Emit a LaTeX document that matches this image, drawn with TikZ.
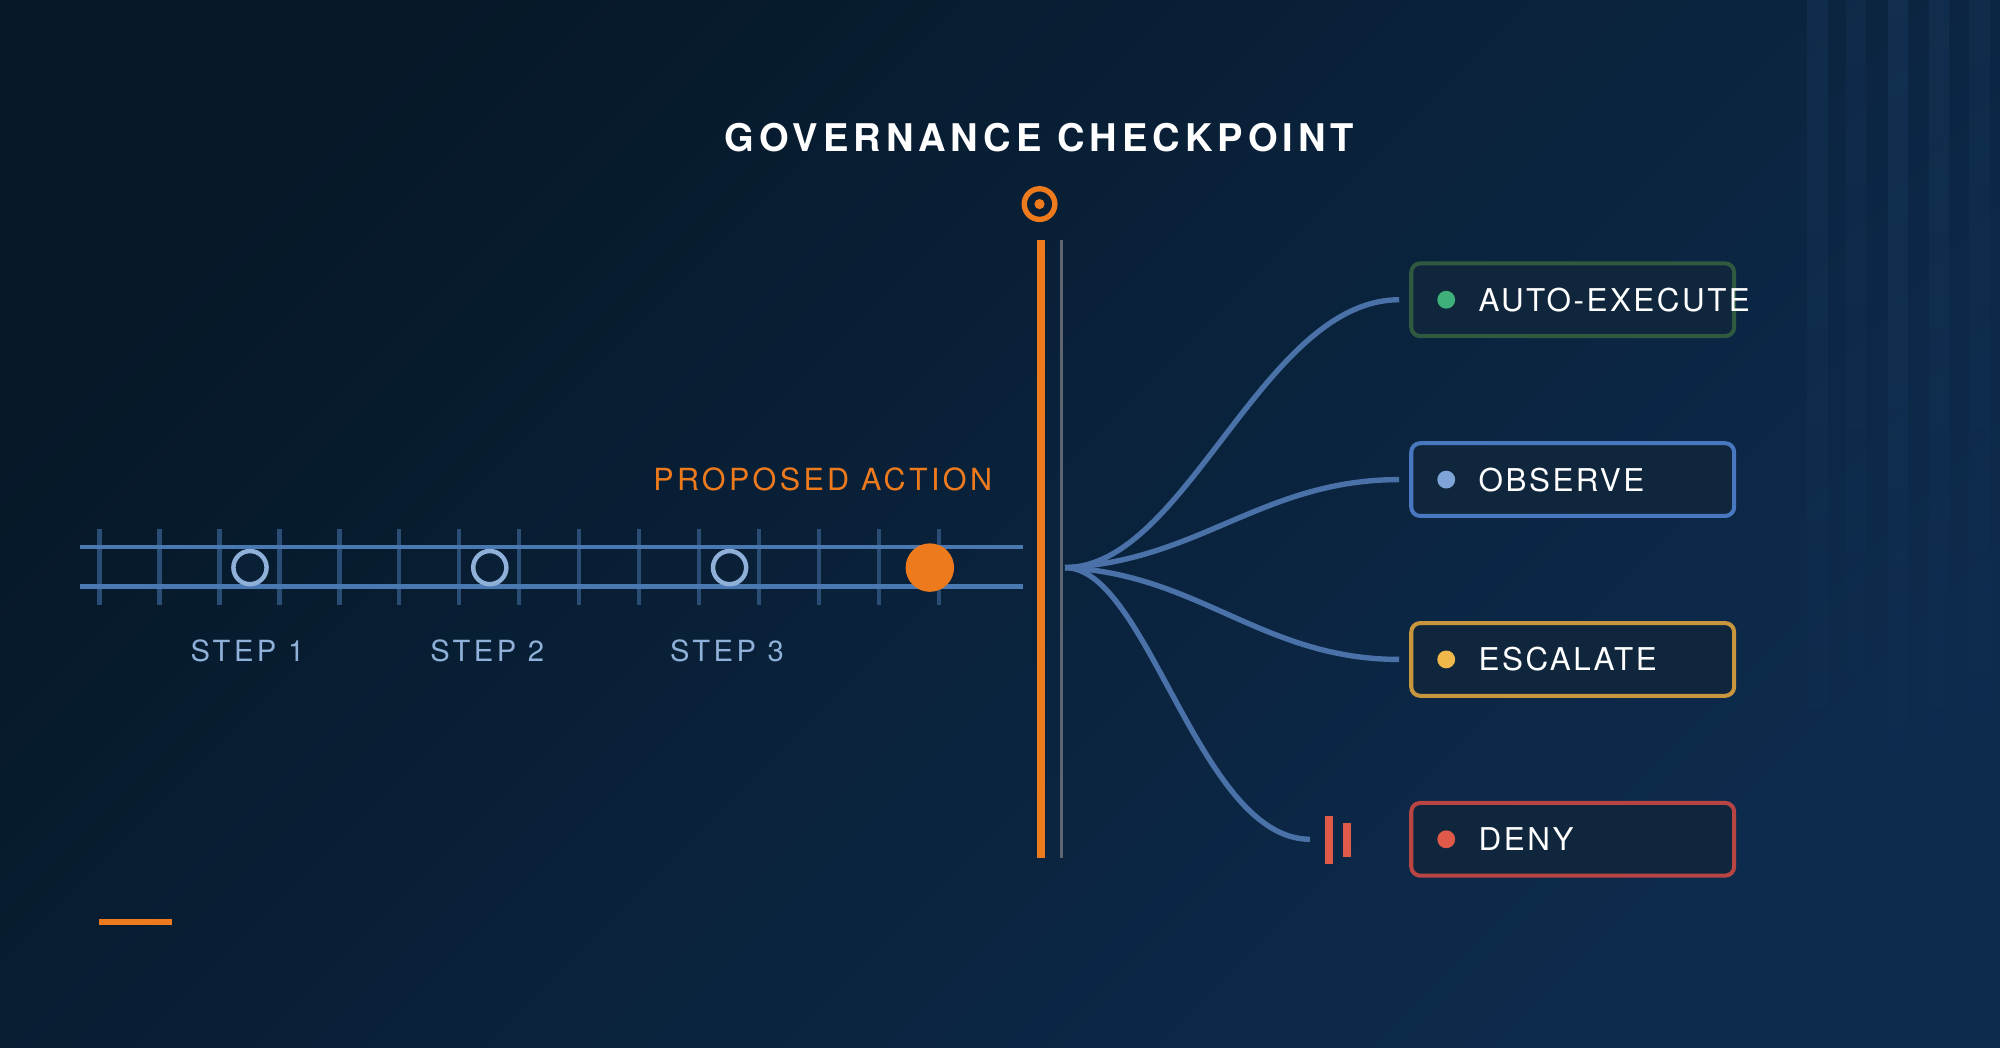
\documentclass[tikz,border=0pt]{standalone}
\usepackage{fontspec}
\setmainfont{TeX Gyre Heros}
\usetikzlibrary{positioning,fadings}
\definecolor{bgA}{HTML}{061828}
\definecolor{bgB}{HTML}{0D2B4D}
\definecolor{rail}{HTML}{4A78B0}
\definecolor{tie}{HTML}{2A4D75}
\definecolor{steptxt}{HTML}{8FB0D8}
\definecolor{accent}{HTML}{EE7A1E}
\definecolor{link}{HTML}{4A72A8}
\definecolor{boxfill}{HTML}{10263C}
\definecolor{okc}{HTML}{3FB07A}
\definecolor{okb}{HTML}{2F5A40}
\definecolor{obc}{HTML}{7FA4D8}
\definecolor{obb}{HTML}{4A78C0}
\definecolor{esc}{HTML}{F0B84A}
\definecolor{esb}{HTML}{C8963C}
\definecolor{dnc}{HTML}{E05A4A}
\definecolor{dnb}{HTML}{B84444}
\tikzset{
  outcome/.style={draw=#1, line width=0.9pt, fill=boxfill, rounded corners=2pt,
    minimum width=2.53cm, minimum height=0.57cm, inner sep=0pt},
  lbl/.style={text=white, font=\fontsize{7}{8}\selectfont\addfontfeature{LetterSpace=8}, anchor=west},
  steplbl/.style={text=steptxt, font=\fontsize{6.5}{8}\selectfont\addfontfeature{LetterSpace=12}},
  branch/.style={link, line width=1.2pt}
}
\begin{document}
\begin{tikzpicture}[x=0.01cm,y=-0.01cm]
				\useasboundingbox (0,0) rectangle (1568,821);
				\shade[left color=bgA, right color=bgB, shading angle=45] (0,0) rectangle (1568,821);
				
				% faint stripes on the right
				\foreach \x/\o in {1425/0.10,1455/0.08,1488/0.12,1520/0.10,1552/0.08}{
					\fill[rail, opacity=\o, path fading=south] (\x-8,0) rectangle (\x+8,640);}
				
				\node[text=white, font=\fontsize{8.5}{10}\selectfont\bfseries\addfontfeature{LetterSpace=13}] (title) at (815,108) {GOVERNANCE CHECKPOINT};
				
				% checkpoint
				\draw[accent, line width=1.2pt] (815,160) circle (12);
				\fill[accent] (815,160) circle (4);
				\coordinate (gtop) at (816,188);
				\coordinate (gbot) at (816,673);
				\draw[accent, line width=1.8pt] (gtop) -- (gbot);
				\draw[gray!70!bgB, line width=0.6pt] (832,188) -- (832,673);
				
				% track
				\foreach \x in {78,125,...,740}{
					\draw[tie, line width=1pt] (\x,415) -- (\x,474);}
				\draw[rail, line width=1pt] (63,429) -- (802,429);
				\draw[rail, line width=1pt] (63,460) -- (802,460);
				
				\foreach \x/\n in {196/1,384/2,572/3}{
					\draw[steptxt, line width=1pt, fill=bgA!60!bgB] (\x,445) circle (13);
					\node[steplbl] (step\n) at (\x-2,510) {STEP \n};}
				\fill[accent] (729,445) circle (19);
				\node[text=accent, font=\fontsize{6.8}{8}\selectfont\addfontfeature{LetterSpace=11}] (prop) at (645,376) {PROPOSED ACTION};
				
				% outcomes
				\node[outcome=okb] (auto) at (1233,235) {};
				\node[outcome=obb] (obs) at (1233,376) {};
				\node[outcome=esb] (esc) at (1233,517) {};
				\node[outcome=dnb] (deny) at (1233,658) {};
				\foreach \b/\c/\t in {auto/okc/AUTO-EXECUTE,obs/obc/OBSERVE,esc/esc/ESCALATE,deny/dnc/DENY}{
					\fill[\c] ([xshift=0.29cm]\b.west) circle (7);
					\node[lbl] at ([xshift=0.42cm]\b.west) {\t};}
				
				% branches
				\coordinate (hub) at (835,445);
				\coordinate (eA) at (1097,235);
				\coordinate (eO) at (1097,376);
				\coordinate (eE) at (1097,517);
				\coordinate (eD) at (1027,658);
				\draw[branch] (hub) .. controls (930,445) and (990,235) .. (eA);
				\draw[branch] (hub) .. controls (940,440) and (990,376) .. (eO);
				\draw[branch] (hub) .. controls (940,450) and (990,517) .. (eE);
				\draw[branch] (hub) .. controls (900,445) and (940,658) .. (eD);
				
				% deny marker
				\draw[dnc, line width=1.7pt] (1042,640) -- (1042,677);
				\draw[dnc, line width=1.7pt] (1056,645) -- (1056,672);
				
				\draw[accent, line width=1.3pt] (78,723) -- (135,723);
			\end{tikzpicture}
\end{document}
